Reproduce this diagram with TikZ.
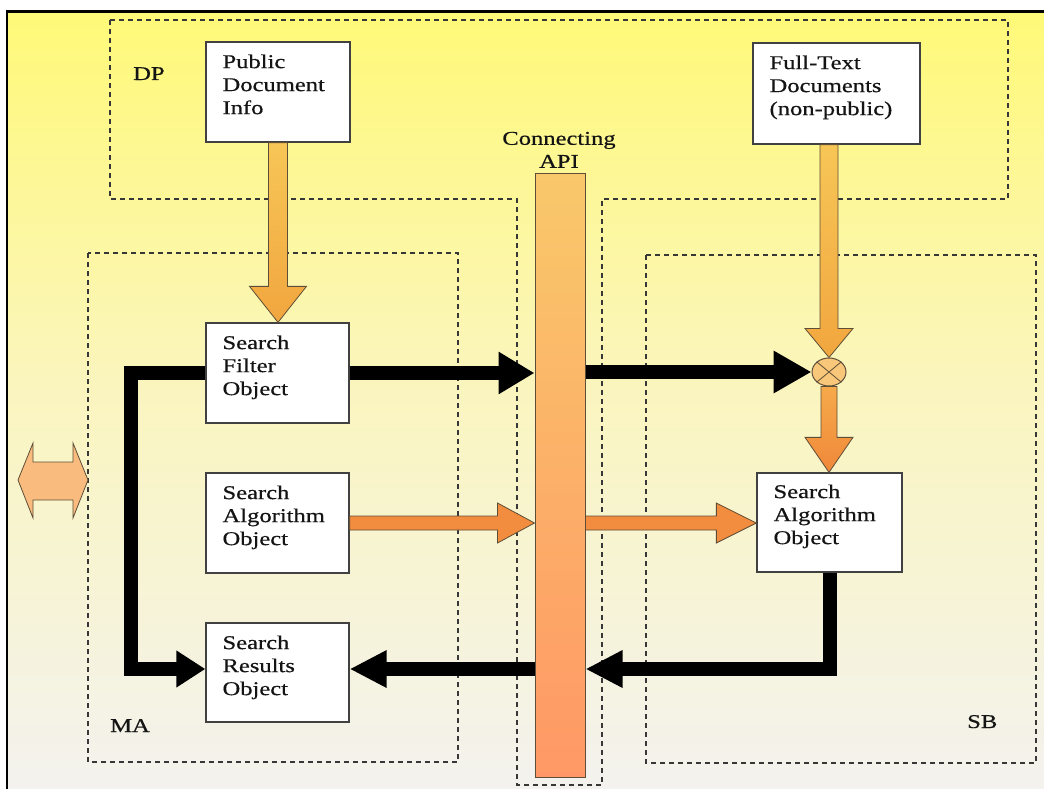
\documentclass[tikz,border=0pt]{standalone}
\usepackage{fontspec}
\setmainfont{Liberation Serif}[FakeStretch=1.26, FakeBold=0.5]
\usetikzlibrary{arrows.meta,shapes.geometric,calc}

\definecolor{bgtop}{RGB}{255,249,120}
\definecolor{bgmid}{RGB}{250,245,192}
\definecolor{bgbot}{RGB}{243,242,238}
\definecolor{ink}{RGB}{20,20,20}
\definecolor{edge}{RGB}{65,65,65}
\definecolor{rim}{RGB}{95,78,55}
\definecolor{goldtop}{RGB}{247,198,86}
\definecolor{goldbot}{RGB}{241,166,62}
\definecolor{ortop}{RGB}{246,170,74}
\definecolor{orbot}{RGB}{240,136,58}
\definecolor{orflat}{RGB}{242,140,62}
\definecolor{apitop}{RGB}{249,200,106}
\definecolor{apibot}{RGB}{255,152,102}
\definecolor{mixfill}{RGB}{249,199,122}
\definecolor{dblfill}{RGB}{249,188,126}

% block arrow pointing down: start, tip, half shaft, half head, head length, style
\newcommand\dnblock[6]{%
  \path[#6] let \p1=(#1), \p2=(#2) in
    (\x1-#3,\y1) -- (\x1-#3,\y2+#5) -- (\x1-#4,\y2+#5) -- (\x1,\y2)
    -- (\x1+#4,\y2+#5) -- (\x1+#3,\y2+#5) -- (\x1+#3,\y1) -- cycle;}
% block arrow pointing right: start, tip, half shaft, half head, head length, style
\newcommand\rtblock[6]{%
  \path[#6] let \p1=(#1), \p2=(#2) in
    (\x1,\y1-#3) -- (\x2-#5,\y1-#3) -- (\x2-#5,\y1-#4) -- (\x2,\y1)
    -- (\x2-#5,\y1+#4) -- (\x2-#5,\y1+#3) -- (\x1,\y1+#3) -- cycle;}

\begin{document}
\begin{tikzpicture}[x=1pt,y=-1pt,
  txt/.style={font=\fontsize{19.5}{23}\selectfont, text=ink},
  objbox/.style={draw=edge, line width=1.3pt, fill=white, inner sep=0pt},
  boxtext/.style={txt, anchor=north west, inner sep=0pt, align=left,
    xshift=17pt, yshift=-13pt},
  region/.style={draw=ink!85, line width=1.3pt, dash pattern=on 5pt off 4pt},
  blk/.style={draw=black, line width=14pt, line join=miter},
  goldarrow/.style={draw=rim, line width=0.8pt, top color=goldtop, bottom color=goldbot},
  orarrow/.style={draw=rim, line width=0.8pt, top color=ortop, bottom color=orbot},
  flatarrow/.style={draw=rim, line width=0.8pt, fill=orflat},
]
\useasboundingbox (0,0) rectangle (1044,789);

% page background and frame
\fill[white] (0,0) rectangle (1044,789);
\shade[top color=bgtop, bottom color=bgbot, middle color=bgmid] (7,11) rectangle (1044,789);
\draw[black, line width=2.5pt] (7,789) -- (7,11.3);
\draw[black, line width=3pt] (5.75,11.3) -- (1044,11.3);

% dashed regions
\draw[region] (110,20) -- (1008,20) -- (1008,199) -- (602,199) -- (602,785)
  -- (517,785) -- (517,199) -- (110,199) -- cycle;
\draw[region] (88,253) rectangle (458,762);
\draw[region] (646,255) rectangle (1036,763);
\node[txt, anchor=base west, inner sep=0pt] (lbldp) at (133,80) {DP};
\node[txt, anchor=base west, inner sep=0pt] (lblma) at (110,732) {MA};
\node[txt, anchor=base west, inner sep=0pt] (lblsb) at (967,728) {SB};

% connecting API bar
\node[draw=rim, line width=1pt, shade, top color=apitop, bottom color=apibot,
  minimum width=50pt, minimum height=604pt, inner sep=0pt] (api) at (560,475) {};
\node[txt, align=center, anchor=south, inner sep=0pt] (apilbl) at (559,168)
  {Connecting\\API};

% object boxes
\node[objbox, minimum width=144pt, minimum height=100pt,
  label={[boxtext]north west:{Public\\Document\\Info}}] (pdi) at (278,92) {};
\node[objbox, minimum width=167pt, minimum height=101pt,
  label={[boxtext]north west:{Full-Text\\Documents\\(non-public)}}] (ftd) at (836.5,93.5) {};
\node[objbox, minimum width=143pt, minimum height=100pt,
  label={[boxtext]north west:{Search\\Filter\\Object}}] (sfo) at (277.5,373) {};
\node[objbox, minimum width=143pt, minimum height=100pt,
  label={[boxtext]north west:{Search\\Algorithm\\Object}}] (sao) at (277.5,523) {};
\node[objbox, minimum width=143pt, minimum height=99pt,
  label={[boxtext]north west:{Search\\Results\\Object}}] (sro) at (277.5,672.5) {};
\node[objbox, minimum width=145pt, minimum height=99pt,
  label={[boxtext, yshift=1pt]north west:{Search\\Algorithm\\Object}}] (rsao) at (829.5,522.5) {};

% merge point
\node[ellipse, draw=rim, line width=1pt, fill=mixfill, minimum width=34pt,
  minimum height=28pt, inner sep=0pt] (mix) at (829,372) {};
\draw[rim, line width=0.8pt] (mix.north west) -- (mix.south east)
  (mix.north east) -- (mix.south west);

% row of the returning results
\coordinate (retrow) at (0,669);
\coordinate (lcol) at (131,0);

% black data paths
\draw[blk, -{Triangle[length=36pt,width=40pt]}] (sfo.east) -- (sfo.east -| api.west);
\draw[blk, -{Triangle[length=38pt,width=40pt]}] (api.east |- mix.west) -- (mix.west);
\draw[blk, -{Triangle[length=29pt,width=35pt]}] (sfo.west) -| (lcol |- retrow) -- (sro.west |- retrow);
\draw[blk, -{Triangle[length=37pt,width=35pt]}] (rsao.south) |- (api.east |- retrow);
\draw[blk, -{Triangle[length=37pt,width=35pt]}] (api.west |- retrow) -- (sro.east |- retrow);

% orange block arrows
\dnblock{pdi.south}{sfo.north}{9.5pt}{28.5pt}{36pt}{goldarrow}
\dnblock{mix.north |- ftd.south}{mix.north}{9pt}{24pt}{29pt}{goldarrow}
\dnblock{mix.south}{rsao.north}{8pt}{24pt}{35pt}{orarrow}
\rtblock{sao.east}{sao.east -| api.west}{7pt}{20pt}{37pt}{flatarrow}
\rtblock{api.east |- sao.east}{rsao.west}{7pt}{20pt}{40pt}{flatarrow}

% two-way arrow at the left edge
\draw[rim, line width=0.8pt, fill=dblfill]
  (18,480) -- (33,443) -- (33,462) -- (73,462) -- (73,443) -- (88,480)
  -- (73,518) -- (73,500) -- (33,500) -- (33,518) -- cycle;
\end{tikzpicture}
\end{document}
